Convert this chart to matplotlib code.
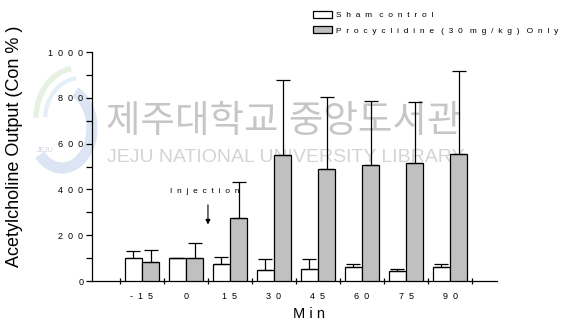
import numpy as np
import matplotlib.pyplot as plt
from matplotlib.ticker import MultipleLocator
from matplotlib.patches import Arc

plt.rcParams['font.family'] = ['Liberation Sans', 'Noto Sans CJK KR', 'DejaVu Sans']

# tiempo (min) y salida de acetilcolina (% del control)
minutos = ['-15', '0', '15', '30', '45', '60', '75', '90']
sham = [103, 100, 76, 47, 54, 62, 44, 62]
sham_err = [28, 2, 29, 50, 43, 11, 7, 14]
procy = [82, 100, 277, 550, 489, 509, 515, 553]
procy_err = [56, 66, 155, 328, 316, 278, 268, 363]

def espaciado(t, sep='  ', hueco=3):
    # separa cada letra; las palabras quedan mas separadas
    return (' ' * hueco).join(sep.join(p) for p in t.split(' '))

fig = plt.figure(figsize=(5.63, 3.25), dpi=100)

# capa de fondo con la marca de agua (en pixeles)
bg = fig.add_axes([0, 0, 1, 1], zorder=0)
bg.set_xlim(0, 563)
bg.set_ylim(325, 0)
bg.axis('off')
bg.add_patch(Arc((62, 128), 60, 80, theta1=-70, theta2=130, lw=8, color='#d3dff0', alpha=0.8))
bg.add_patch(Arc((78, 118), 84, 100, theta1=180, theta2=262, lw=4, color='#e2eedb', alpha=0.8))
bg.add_patch(Arc((80, 120), 70, 84, theta1=185, theta2=265, lw=3, color='#dcebf4', alpha=0.8))
bg.text(45, 150, 'JEJU', fontsize=5, color='#ccd3de', ha='center', va='center')
bg.text(284, 122, '제주대학교 중앙도서관', fontsize=27, color='#c6c6c6',
        ha='center', va='center')
bg.text(286, 157, 'JEJU NATIONAL UNIVERSITY LIBRARY', fontsize=14, color='#d4d4d4',
        ha='center', va='center')

ax = fig.add_axes([0.163, 0.135, 0.72, 0.705], zorder=1)
ax.patch.set_alpha(0)

x = np.arange(len(minutos))
w = 0.39
ek = dict(elinewidth=0.9, capsize=5, capthick=0.9)
ax.bar(x - w / 2, sham, width=w, color='white', edgecolor='black', linewidth=0.9,
       yerr=[np.zeros(len(sham)), sham_err], error_kw=ek,
       label=espaciado('Sham control'), zorder=3)
ax.bar(x + w / 2, procy, width=w, color='#c0c0c0', edgecolor='black', linewidth=0.9,
       yerr=[np.zeros(len(procy)), procy_err], error_kw=ek,
       label=espaciado('Procyclidine (30 mg/kg) Only'), zorder=3)

ax.set_xlim(-1.14, 8.07)
ax.set_ylim(0, 1000)
ax.set_xticks(x)
ax.set_xticklabels([espaciado(m) for m in minutos], fontsize=6.5)
ax.set_xticks(np.arange(len(minutos) + 1) - 0.5, minor=True)
ax.tick_params(axis='x', which='major', length=0, pad=8)
ax.tick_params(axis='x', which='minor', length=5, direction='inout', width=0.9)

ax.set_yticks(range(0, 1001, 200))
ax.set_yticklabels([espaciado(str(v)) for v in range(0, 1001, 200)], fontsize=6.5)
ax.yaxis.set_minor_locator(MultipleLocator(100))
ax.tick_params(axis='y', which='both', length=4, width=0.9, pad=2)

for s in ['top', 'right']:
    ax.spines[s].set_visible(False)
for s in ['left', 'bottom']:
    ax.spines[s].set_linewidth(0.9)

ax.set_ylabel('Acetylcholine Output (Con % )', fontsize=13)
ax.yaxis.set_label_coords(-0.17, 0.59)
ax.set_xlabel(espaciado('Min', ' '), fontsize=10.5)
ax.xaxis.set_label_coords(0.535, -0.115)

# flecha de inyeccion
ax.annotate('', xy=(1.5, 235), xytext=(1.5, 345),
            arrowprops=dict(arrowstyle='-|>', color='black', lw=0.8, mutation_scale=7))
ax.text(1.43, 375, espaciado('Injection'), fontsize=6, ha='center', va='bottom')

fig.legend(loc='upper left', bbox_to_anchor=(0.543, 0.99), frameon=False,
           fontsize=6, handlelength=2.3, handleheight=0.95, labelspacing=0.85,
           handletextpad=0.4)

fig.savefig('out.png', dpi=100)
